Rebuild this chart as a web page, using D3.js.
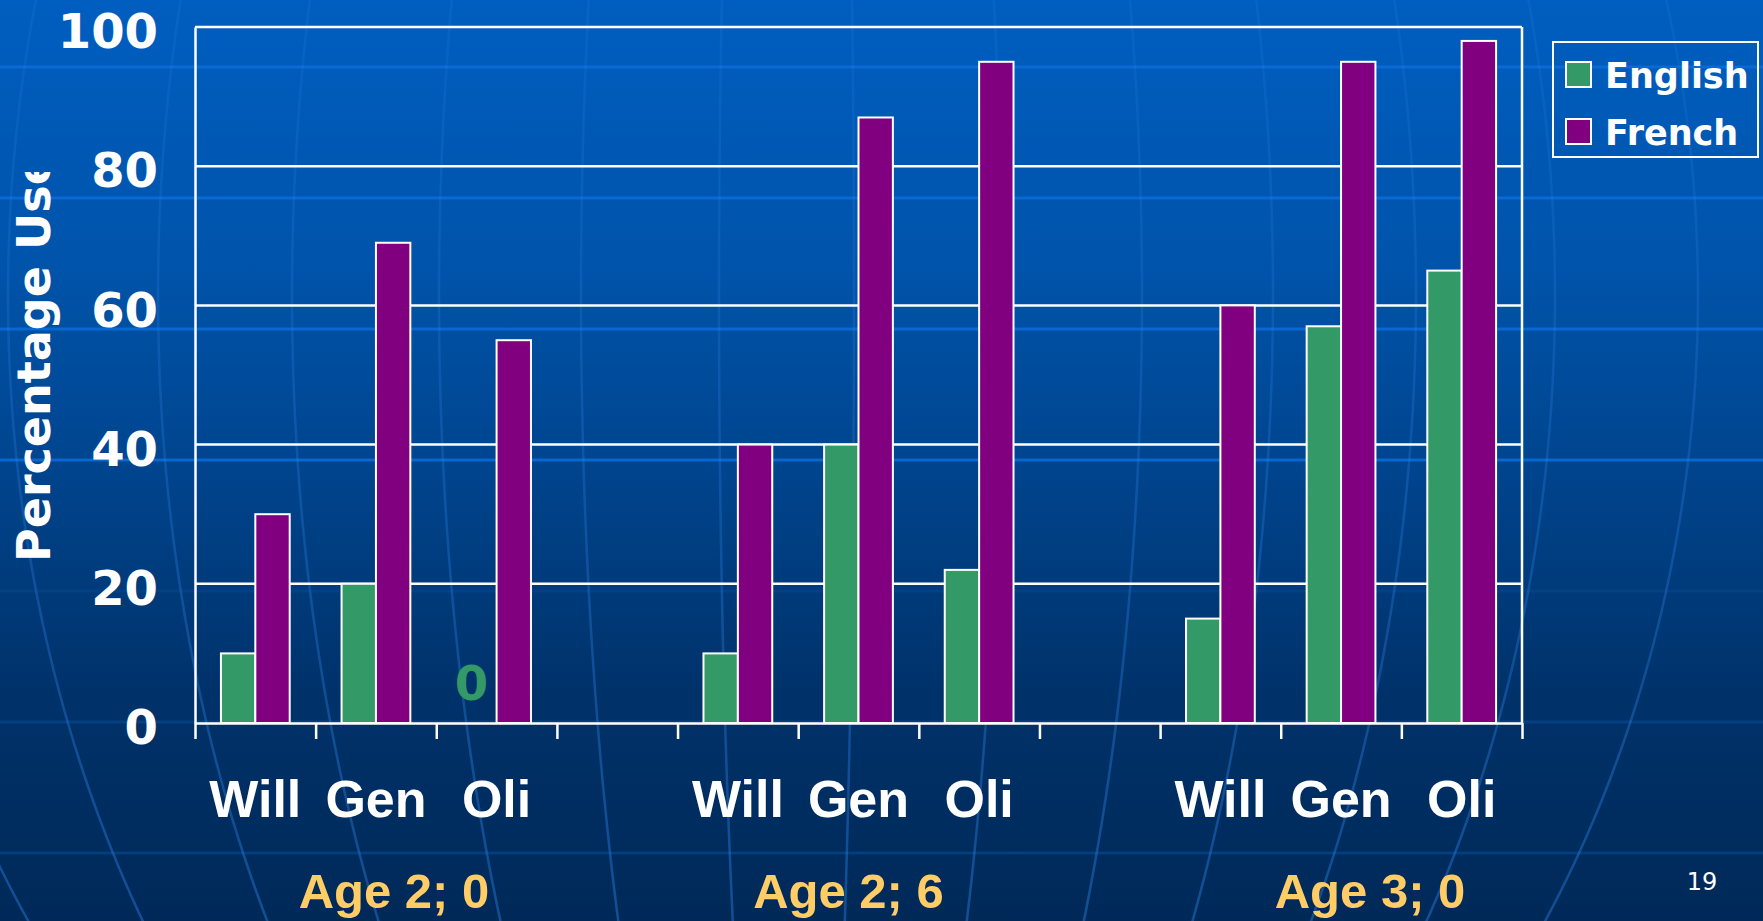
<!DOCTYPE html>
<html>
<head>
<meta charset="utf-8">
<script src="https://cdn.jsdelivr.net/npm/d3@7"></script>
<style>
  html, body { margin: 0; padding: 0; background: #00295a; }
  svg { display: block; }
</style>
</head>
<body>
<svg id="chart" width="1763" height="921"></svg>
<script>
// ---- data ----
const categories = ["Will", "Gen", "Oli", "", "Will", "Gen", "Oli", "", "Will", "Gen", "Oli"];
const englishValues = [10, 20, 0, null, 10, 40, 22, null, 15, 57, 65];
const frenchValues = [30, 69, 55, null, 40, 87, 95, null, 60, 95, 98];
const seriesNames = ["English", "French"];
const yTickValues = [0, 20, 40, 60, 80, 100];
const ageLabels = ["Age 2; 0", "Age 2; 6", "Age 3; 0"];
const ageGroups = [[0, 2], [4, 6], [8, 10]];
const yTitle = "Percentage Use";
const pageNumber = "19";

// ---- layout & style ----
const W = 1763, H = 921;
const plot = { left: 195, right: 1522, top: 27, bottom: 723 };
const colors = { English: "#339966", French: "#800080" };
const sans = "'DejaVu Sans', Verdana, sans-serif";
const arial = "'Liberation Sans', Arial, sans-serif";
const ageNudge = [18, -10, 29];

const svg = d3.select("#chart");
const defs = svg.append("defs");

// slide background: vertical blue gradient
const grad = defs.append("linearGradient").attr("id", "bg")
  .attr("x1", 0).attr("y1", 0).attr("x2", 0).attr("y2", 1);
[[0, "#005ec0"], [0.3, "#0053a9"], [0.5, "#00458f"], [0.75, "#00326a"], [1, "#002958"]]
  .forEach(([o, c]) => grad.append("stop").attr("offset", o).attr("stop-color", c));
svg.append("rect").attr("width", W).attr("height", H).attr("fill", "url(#bg)");

// meridian stroke fades out toward the top of the slide
const mGrad = defs.append("linearGradient").attr("id", "meridianStroke")
  .attr("gradientUnits", "userSpaceOnUse").attr("x1", 0).attr("y1", 0).attr("x2", 0).attr("y2", H);
[[0, 0.18], [0.5, 0.3], [1, 0.45]].forEach(([o, a]) =>
  mGrad.append("stop").attr("offset", o).attr("stop-color", "#2a7de0").attr("stop-opacity", a));

// template decoration: latitude lines
const deco = svg.append("g");
d3.range(7).forEach(k => {
  const yy = 67 + 131 * k;
  deco.append("line").attr("x1", 0).attr("x2", W).attr("y1", yy).attr("y2", yy)
    .attr("stroke", k < 4 ? "#0a6ddc" : "#0a4d98")
    .attr("stroke-opacity", k < 4 ? 0.85 : (k === 4 ? 0.35 : 0.55))
    .attr("stroke-width", 3);
});
// template decoration: globe meridians
const meridianSpread = [-930, -792, -642, -508, -361, -219, -81, 54, 201, 342, 473, 616, 755, 898];
const meridian = d3.line().curve(d3.curveBasis);
meridianSpread.forEach(s => {
  const pts = d3.range(-20, H + 30, 15).map(yy => {
    const t = (yy - 295) / 1122;
    return [800 + s * Math.sqrt(Math.max(0, 1 - t * t)), yy];
  });
  deco.append("path").attr("d", meridian(pts)).attr("fill", "none")
    .attr("stroke", "url(#meridianStroke)").attr("stroke-width", 2.5);
});

// ---- scales ----
const x = d3.scaleBand().domain(d3.range(categories.length))
  .range([plot.left, plot.right]).paddingInner(0).paddingOuter(0);
const groupWidth = x.step() * 0.57;
const x1 = d3.scaleBand().domain(seriesNames).range([0, groupWidth]);
const xEdge = d3.scaleLinear().domain([0, categories.length]).range([plot.left, plot.right]);
const y = d3.scaleLinear().domain([0, 100]).range([plot.bottom, plot.top]);

// gridlines (the 100 line doubles as the top frame)
svg.append("g").selectAll("line").data(yTickValues.filter(v => v > 0)).join("line")
  .attr("x1", plot.left).attr("x2", plot.right)
  .attr("y1", d => y(d)).attr("y2", d => y(d))
  .attr("stroke", "#fff").attr("stroke-width", 2.5);
svg.append("line").attr("x1", plot.right).attr("x2", plot.right)
  .attr("y1", plot.top).attr("y2", plot.bottom)
  .attr("stroke", "#fff").attr("stroke-width", 2.5);

// bars
const rows = [];
categories.forEach((c, i) => {
  [["English", englishValues[i]], ["French", frenchValues[i]]].forEach(([s, v]) => {
    if (v !== null) rows.push({ i, s, v });
  });
});
const barX = d => x(d.i) + (x.step() - groupWidth) / 2 + x1(d.s);
svg.append("g").selectAll("rect").data(rows.filter(d => d.v > 0)).join("rect")
  .attr("x", barX).attr("width", x1.bandwidth())
  .attr("y", d => y(d.v)).attr("height", d => y(0) - y(d.v))
  .attr("fill", d => colors[d.s]).attr("stroke", "#fff").attr("stroke-width", 2);

// zero-value label
svg.append("g").selectAll("text").data(rows.filter(d => d.v === 0)).join("text")
  .attr("x", d => barX(d) + x1.bandwidth() / 2 - 8).attr("y", y(0) - 23)
  .attr("text-anchor", "middle").attr("fill", d => colors[d.s])
  .attr("font-family", sans).attr("font-weight", "bold").attr("font-size", 48)
  .text(d => d.v);

// axes
const yAxis = svg.append("g").attr("transform", `translate(${plot.left},0)`)
  .call(d3.axisLeft(y).tickValues(yTickValues).tickSize(0).tickPadding(37).tickSizeOuter(0));
yAxis.select(".domain").attr("stroke", "#fff").attr("stroke-width", 2.5);
yAxis.selectAll("text").attr("fill", "#fff").attr("font-family", sans)
  .attr("font-weight", "bold").attr("font-size", 48).attr("dy", "0.43em");

const xAxis = svg.append("g").attr("transform", `translate(0,${plot.bottom})`)
  .call(d3.axisBottom(xEdge).tickValues(d3.range(categories.length + 1))
    .tickSize(16).tickSizeOuter(0).tickFormat(""));
xAxis.select(".domain").attr("stroke", "#fff").attr("stroke-width", 2.5);
xAxis.selectAll(".tick line").attr("stroke", "#fff").attr("stroke-width", 2.5);

// category names
svg.append("g").selectAll("text").data(categories.map((c, i) => ({ c, i })).filter(d => d.c))
  .join("text")
  .attr("x", d => x(d.i) + x.bandwidth() / 2).attr("y", 817)
  .attr("text-anchor", "middle").attr("fill", "#fff")
  .attr("font-family", arial).attr("font-weight", "bold").attr("font-size", 52)
  .text(d => d.c);

// age group labels
svg.append("g").selectAll("text").data(ageLabels).join("text")
  .attr("x", (d, k) => (x(ageGroups[k][0]) + x(ageGroups[k][1]) + x.bandwidth()) / 2 + ageNudge[k])
  .attr("y", 908).attr("text-anchor", "middle").attr("fill", "#ffcc66")
  .attr("font-family", arial).attr("font-weight", "bold").attr("font-size", 49)
  .text(d => d);

// y-axis title (clipped at the top, as in the slide's text box)
defs.append("clipPath").attr("id", "titleClip")
  .append("rect").attr("x", 0).attr("y", 172).attr("width", 80).attr("height", H - 172);
svg.append("g").attr("clip-path", "url(#titleClip)")
  .append("text").attr("transform", "translate(50,562) rotate(-90)")
  .attr("fill", "#fff").attr("font-family", sans).attr("font-weight", "bold")
  .attr("font-size", 46).text(yTitle);

// legend
const legend = svg.append("g");
legend.append("rect").attr("x", 1553).attr("y", 42).attr("width", 205).attr("height", 115)
  .attr("fill", "none").attr("stroke", "#fff").attr("stroke-width", 2);
seriesNames.forEach((s, k) => {
  legend.append("rect").attr("x", 1566).attr("y", 62 + 57 * k).attr("width", 25).attr("height", 25)
    .attr("fill", colors[s]).attr("stroke", "#fff").attr("stroke-width", 2);
  legend.append("text").attr("x", 1605).attr("y", 88 + 57 * k)
    .attr("fill", "#fff").attr("font-family", sans).attr("font-weight", "bold")
    .attr("font-size", 35).text(s);
});

// slide number
svg.append("text").attr("x", 1702).attr("y", 890).attr("text-anchor", "middle")
  .attr("fill", "#fff").attr("font-family", sans).attr("font-size", 24).text(pageNumber);
</script>
</body>
</html>
